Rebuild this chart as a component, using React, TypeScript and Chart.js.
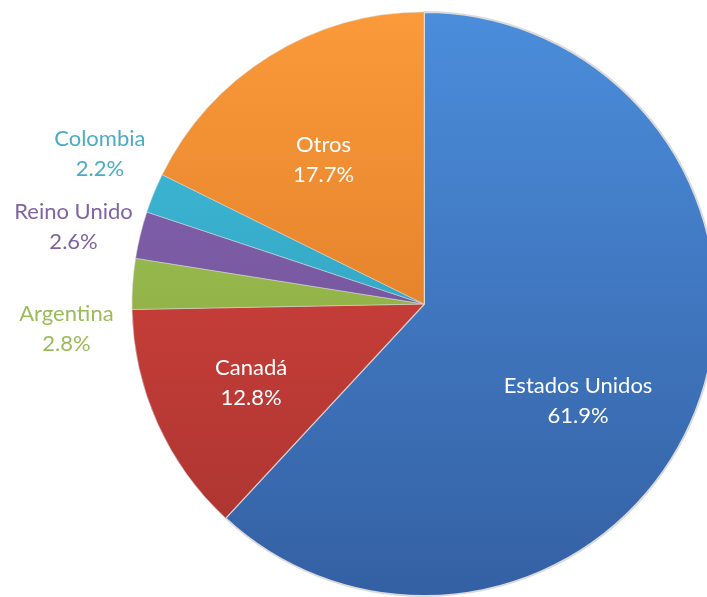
import React, { useEffect, useRef } from "react";
import { Chart, registerables } from "chart.js";

Chart.register(...registerables);

const categories = ["Estados Unidos", "Canadá", "Argentina", "Reino Unido", "Colombia", "Otros"];
const shares = [61.9, 12.8, 2.8, 2.6, 2.2, 17.7];
const topColors = ["#4b8ddb", "#e0473f", "#a6cc55", "#8a67b5", "#3fbfdf", "#fb9a3a"];
const bottomColors = ["#3460a3", "#a83330", "#7e9c3e", "#644a8c", "#2c93ad", "#d06e1e"];
const textColors = ["#ffffff", "#ffffff", "#9bbb59", "#8064a2", "#4bacc6", "#ffffff"];

const FONT = "Lato, 'Open Sans', sans-serif";

const labelPlugin = {
  id: "sliceLabels",
  afterDatasetsDraw(chart: any, _args: any, opts: any) {
    const ctx = chart.ctx;
    const meta = chart.getDatasetMeta(0);
    const data = chart.data.datasets[0].data as number[];
    meta.data.forEach((arc: any, i: number) => {
      const { x, y, startAngle, endAngle, outerRadius } = arc.getProps(
        ["x", "y", "startAngle", "endAngle", "outerRadius"],
        true
      );
      const mid = (startAngle + endAngle) / 2;
      const outside = data[i] < 5;
      const f = outside ? opts.outsideFactor : opts.insideFactor;
      const nudge = (opts.nudges && opts.nudges[i]) || [0, 0];
      const cx = x + Math.cos(mid) * outerRadius * f + nudge[0];
      const cy = y + Math.sin(mid) * outerRadius * f + nudge[1];
      ctx.save();
      ctx.font = `${opts.fontSize}px ${FONT}`;
      ctx.fillStyle = textColors[i];
      ctx.textAlign = "center";
      ctx.textBaseline = "middle";
      const lh = opts.lineHeight;
      ctx.fillText(chart.data.labels[i], cx, cy - lh / 2);
      ctx.fillText(data[i].toFixed(1) + "%", cx, cy + lh / 2);
      ctx.restore();
    });
  },
};

export default function App() {
  const ref = useRef<HTMLCanvasElement>(null);
  useEffect(() => {
    if (!ref.current) return;
    const chart = new Chart(ref.current, {
      type: "pie",
      data: {
        labels: categories,
        datasets: [
          {
            data: shares,
            backgroundColor: (c: any) => {
              const area = c.chart.chartArea;
              if (!area) return topColors[c.dataIndex];
              const g = c.chart.ctx.createLinearGradient(0, area.top, 0, area.bottom);
              g.addColorStop(0, topColors[c.dataIndex]);
              g.addColorStop(1, bottomColors[c.dataIndex]);
              return g;
            },
            borderColor: "#dadada",
            borderWidth: [2, 0.5, 0.5, 0.5, 0.5, 0.5],
            borderAlign: "center",
          } as any,
        ],
      },
      options: {
        responsive: false,
        animation: false,
        devicePixelRatio: 1,
        layout: { padding: { top: 11, bottom: 11, left: 131, right: 131 } },
        plugins: {
          legend: { display: false },
          tooltip: { enabled: false },
          sliceLabels: {
            insideFactor: 0.6,
            outsideFactor: 1.2,
            fontSize: 22,
            lineHeight: 30,
            nudges: [[-9, 33], [-13, 7], [-8, 49], [-10, 6], [0, -17], [-8, 5]],
          },
        } as any,
      },
      plugins: [labelPlugin],
    });
    return () => chart.destroy();
  }, []);
  return (
    <div style={{ position: "fixed", left: 0, top: 0, width: 707, height: 597, overflow: "hidden", background: "#fff" }}>
      <canvas ref={ref} width={848} height={608} style={{ width: 848, height: 608, display: "block" }} />
    </div>
  );
}
